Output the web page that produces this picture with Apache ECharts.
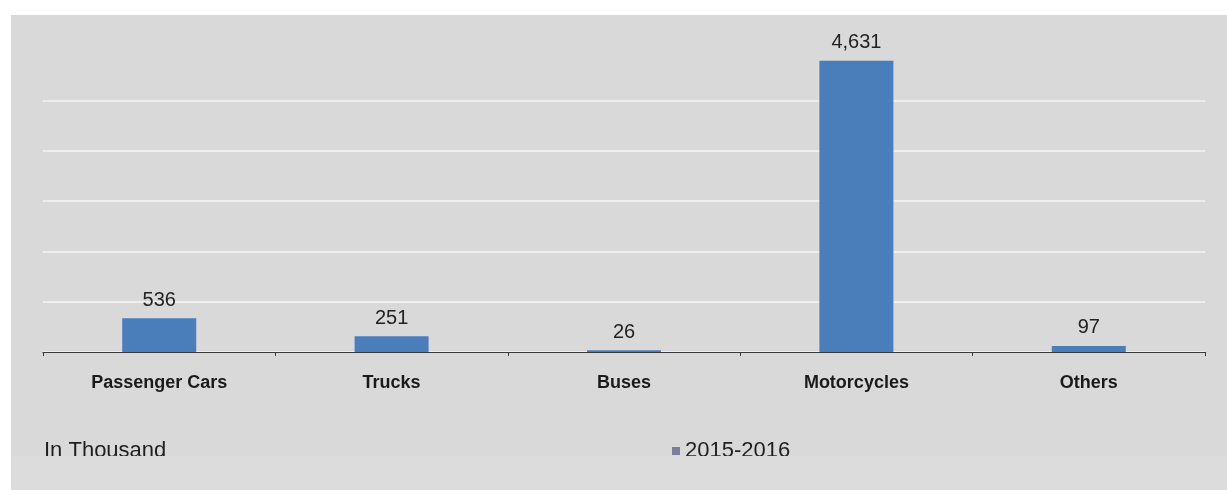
<!DOCTYPE html>
<html>
<head>
<meta charset="utf-8">
<script src="https://cdn.jsdelivr.net/npm/echarts@6/dist/echarts.min.js"></script>
<style>
  html, body { margin: 0; padding: 0; background: #ffffff; }
  #chart { width: 1227px; height: 490px; }
</style>
</head>
<body>
<div id="chart"></div>
<script>
  // vehicle categories and production (in thousand)
  const categories = ['Passenger Cars', 'Trucks', 'Buses', 'Motorcycles', 'Others'];
  const values2015 = [536, 251, 26, 4631, 97];
  const seriesName = '2015-2016';

  const chart = echarts.init(document.getElementById('chart'));

  chart.setOption({
    backgroundColor: '#ffffff',
    animation: false,
    textStyle: { fontFamily: 'Liberation Sans, Arial, sans-serif' },
    graphic: [
      // grey panel
      { type: 'rect', z: -10, shape: { x: 11, y: 15, width: 1216, height: 475 }, style: { fill: '#d9d9d9' } },
      { type: 'text', left: 44, top: 440, style: { text: 'In Thousand', fontSize: 22, fill: '#1f1f1f', fontFamily: 'Liberation Sans, Arial, sans-serif' } },
      // lower strip, cuts the bottom of the texts like in the scan
      { type: 'rect', z: 100, shape: { x: 11, y: 456, width: 1216, height: 34 }, style: { fill: '#dcdcdc' } }
    ],
    grid: { left: 43, right: 22, top: 50, bottom: 138 },
    legend: {
      left: 672,
      top: 440,
      padding: 0,
      itemWidth: 8,
      itemHeight: 8,
      itemGap: 10,
      icon: 'rect',
      textStyle: { fontSize: 22, color: '#1f1f1f' },
      data: [{ name: seriesName, itemStyle: { color: '#77819a' } }]
    },
    xAxis: {
      type: 'category',
      data: categories,
      axisLine: { lineStyle: { color: '#3a3a3a', width: 1.2 } },
      axisTick: { show: true, length: 4, lineStyle: { color: '#3a3a3a' } },
      axisLabel: { fontSize: 18, fontWeight: 'bold', color: '#1a1a1a', margin: 22 }
    },
    yAxis: {
      type: 'value',
      min: 0,
      max: 4800,
      interval: 800,
      axisLine: { show: false },
      axisTick: { show: false },
      axisLabel: { show: false },
      splitLine: { showMaxLine: false, lineStyle: { color: '#f4f4f4', width: 1.5 } }
    },
    series: [{
      name: seriesName,
      type: 'bar',
      data: values2015,
      barWidth: 74,
      itemStyle: { color: '#4a7ebb' },
      label: {
        show: true,
        position: 'top',
        distance: 8,
        fontSize: 20,
        color: '#222222',
        formatter: p => p.value.toLocaleString('en-US')
      }
    }]
  });
</script>
</body>
</html>
